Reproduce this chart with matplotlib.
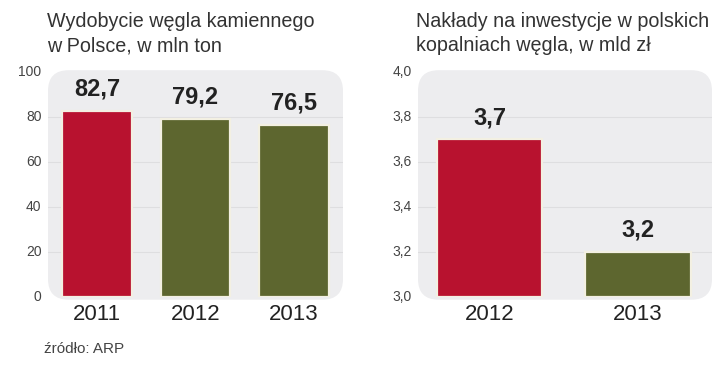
"""Coal output and mining investment in Poland, two small bar panels."""

import matplotlib.pyplot as plt
from matplotlib.patches import FancyBboxPatch

# left panel: hard coal output, mln t
years_output = ["2011", "2012", "2013"]
output_mt = [82.7, 79.2, 76.5]
output_ticks = [0, 20, 40, 60, 80, 100]

# right panel: investment, bln zl
years_invest = ["2012", "2013"]
invest_bn = [3.7, 3.2]
invest_ticks = [3.0, 3.2, 3.4, 3.6, 3.8, 4.0]

RED = "#b8122f"
OLIVE = "#5d662f"
BG = "#ededef"
GRID = "#dedee0"
TXT = "#222222"

W, H = 720, 367
fig = plt.figure(figsize=(7.2, 3.67), dpi=100)
fig.patch.set_facecolor("white")


def panel(x0, x1, xlim, cats, vals, colors, ylim, ticks, fmt, bar_w):
    ax = fig.add_axes([x0 / W, 1 - 297 / H, (x1 - x0) / W, 225 / H])
    ax.set_xlim(*xlim)
    ax.set_ylim(*ylim)
    ax.axis("off")
    # rounded gray background
    bg = FancyBboxPatch((0, -0.012), 1, 1.02, boxstyle="round,pad=0,rounding_size=0.07",
                        transform=ax.transAxes, facecolor=BG, edgecolor="none",
                        clip_on=False, zorder=0, mutation_aspect=(x1 - x0) / 225)
    ax.add_patch(bg)
    for t in ticks[1:-1]:
        ax.axhline(t, color=GRID, lw=0.8, zorder=1)
    for t in ticks:
        ax.text(-0.022, (t - ylim[0]) / (ylim[1] - ylim[0]), fmt(t), transform=ax.transAxes,
                ha="right", va="center", fontsize=10, color="#444444",
                family=["Liberation Sans", "DejaVu Sans"])
    xs = list(range(len(cats)))
    ax.bar(xs, [v - ylim[0] for v in vals], bottom=ylim[0], width=bar_w, color=colors,
           edgecolor="#f3f0e2", linewidth=1.6, zorder=2)
    span = ylim[1] - ylim[0]
    for x, v in zip(xs, vals):
        ax.text(x, v + span * 0.045, f"{v:.1f}".replace(".", ","), ha="center", va="bottom",
                fontsize=17, fontweight="bold", color=TXT,
                family=["Liberation Sans Narrow", "Liberation Sans", "DejaVu Sans"])
        ax.text(x, ylim[0] - span * 0.08, cats[x], ha="center", va="center", fontsize=16,
                color=TXT, family=["Liberation Sans", "DejaVu Sans"])
    return ax


panel(48, 343, (-0.5, 2.5), years_output, output_mt, [RED, OLIVE, OLIVE],
      (0, 100), output_ticks, lambda t: f"{t:d}", 0.71)
panel(418, 712, (-0.486, 1.5), years_invest, invest_bn, [RED, OLIVE],
      (3.0, 4.0), invest_ticks, lambda t: f"{t:.1f}".replace(".", ","), 0.71)

title_kw = dict(fontsize=14.2, color="#333333", va="top", linespacing=1.35,
                family=["Liberation Sans", "DejaVu Sans"])
fig.text(47 / W, 1 - 12 / H, "Wydobycie węgla kamiennego\nw Polsce, w mln ton", **title_kw)
fig.text(416 / W, 1 - 12 / H, "Nakłady na inwestycje w polskich\nkopalniach węgla, w mld zł", **title_kw)
fig.text(44 / W, 1 - 349 / H, "źródło: ARP", fontsize=11, color="#444444", va="center",
         family=["Liberation Sans", "DejaVu Sans"])

fig.savefig("out.png", dpi=100, facecolor="white")
